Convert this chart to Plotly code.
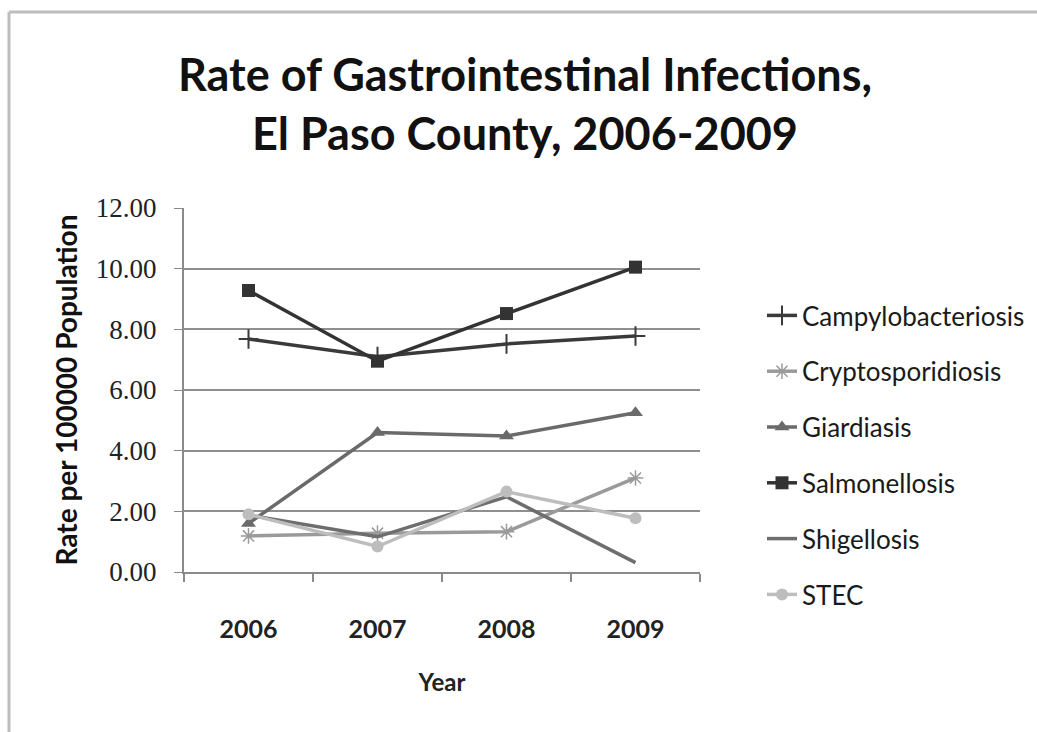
import plotly.graph_objects as go

years = ["2006", "2007", "2008", "2009"]
campylobacteriosis = [7.68, 7.10, 7.52, 7.78]
cryptosporidiosis = [1.19, 1.28, 1.33, 3.10]
giardiasis = [1.60, 4.60, 4.48, 5.25]
salmonellosis = [9.28, 6.95, 8.52, 10.05]
shigellosis = [1.88, 1.16, 2.48, 0.31]
stec = [1.90, 0.84, 2.65, 1.77]
y_ticks = [0, 2, 4, 6, 8, 10, 12]

series = [
    ("Campylobacteriosis", campylobacteriosis, "#3a3a3a", dict(symbol="cross-thin-open", size=14, line=dict(width=2, color="#3a3a3a"))),
    ("Cryptosporidiosis", cryptosporidiosis, "#9a9a9a", dict(symbol="asterisk-open", size=13, line=dict(width=1.5, color="#9a9a9a"))),
    ("Giardiasis", giardiasis, "#6a6a6a", dict(symbol="triangle-up", size=13, color="#6a6a6a")),
    ("Salmonellosis", salmonellosis, "#333333", dict(symbol="square", size=13, color="#333333")),
    ("Shigellosis", shigellosis, "#6e6e6e", None),
    ("STEC", stec, "#bdbdbd", dict(symbol="circle", size=12, color="#bdbdbd")),
]

fig = go.Figure()
for i, (name, vals, col, mk) in enumerate(series):
    kw = dict(mode="lines+markers", marker=mk) if mk else dict(mode="lines")
    fig.add_trace(go.Scatter(x=years, y=vals, name=name, legendgroup=f"g{i}",
                             line=dict(color=col, width=3.5), **kw))

L, R, T, B = 184, 700, 208, 572
W, H = 1037, 732
pw, ph = R - L, B - T

def px(x):
    return (x - L) / pw

def py(y):
    return (B - y) / ph

fig.update_layout(
    width=W, height=H,
    margin=dict(l=L, r=W - R, t=T, b=H - B, autoexpand=False),
    paper_bgcolor="white", plot_bgcolor="white",
    title=dict(text="Rate of Gastrointestinal Infections,<br>El Paso County, 2006-2009",
               x=525 / W, xanchor="center", y=1 - 91 / H, yanchor="middle",
               font=dict(family="Lato", size=45, color="#111111", weight="bold")),
    showlegend=True,
    legend=dict(x=px(762), y=py(292), xanchor="left", yanchor="top",
                font=dict(family="Lato", size=26, color="#1a1a1a"),
                tracegroupgap=19, bgcolor="rgba(0,0,0,0)"),
    xaxis=dict(type="category", range=[-0.5, 3.5], showgrid=False, showline=True,
               linecolor="#8a8a8a", linewidth=2,
               ticks="outside", tickson="boundaries", ticklen=8, tickcolor="#8a8a8a", tickwidth=1.5,
               tickfont=dict(family="Lato", size=25, color="#222222", weight="bold"),
               ticklabelstandoff=34,
               title=dict(text="Year", font=dict(family="Lato", size=24, color="#222222", weight="bold"),
                          standoff=32),
               fixedrange=True),
    yaxis=dict(range=[0, 12], tickvals=y_ticks, tickformat=".2f", showgrid=True, gridcolor="#8f8f8f",
               gridwidth=1.5, showline=True, linecolor="#8a8a8a", linewidth=2, ticks="outside",
               ticklen=8, tickcolor="#8a8a8a", zeroline=False, ticklabelstandoff=12,
               tickfont=dict(family="Liberation Serif", size=27, color="#222222"),
               title=dict(text="Rate per 100000 Population",
                          font=dict(family="Lato", size=28, color="#111111", weight="bold"), standoff=10),
               fixedrange=True),
)

# outer frame lines (top and left) like the reference
fig.add_shape(type="line", xref="paper", yref="paper", x0=px(9), x1=px(W), y0=py(12), y1=py(12),
              line=dict(color="#bdbdbd", width=3))
fig.add_shape(type="line", xref="paper", yref="paper", x0=px(9), x1=px(9), y0=py(12), y1=py(H),
              line=dict(color="#bdbdbd", width=3))

fig.write_html("out.html", config={"displayModeBar": False},
               post_script="document.body.style.margin='0';")
